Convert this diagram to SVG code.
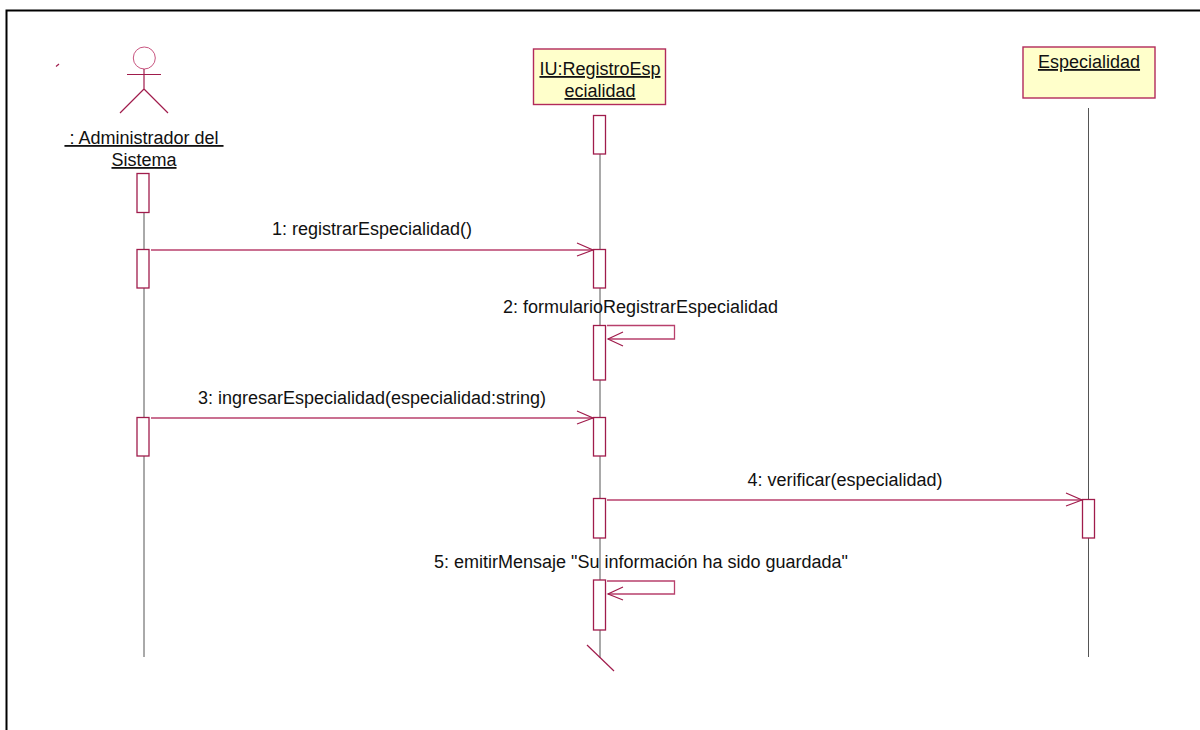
<svg xmlns="http://www.w3.org/2000/svg" width="1200" height="730" viewBox="0 0 1200 730">
<style>
text{font-family:"Liberation Sans",Arial,sans-serif;font-size:18px;fill:#111;text-anchor:middle}
.u{text-decoration:underline}
.l{stroke:#a01c4c;stroke-width:1.2;fill:none}
.a{fill:#fff;stroke:#a01c4c;stroke-width:1.3}
.o{fill:#ffffcb;stroke:#b22a5a;stroke-width:1.4}
.ll{stroke:#555;stroke-width:1;fill:none}
.m{stroke:#b8406c;stroke-width:1.3;fill:none}
</style>
<rect width="1200" height="730" fill="#fff"/>
<path d="M6.5 730V10.5H1200" fill="none" stroke="#000" stroke-width="2"/>
<path class="l" d="M56 66.5L59 64"/>
<g id="lifelines">
<path class="ll" d="M144 212V657M600 154V658M1088.5 108V657"/>
</g>
<g id="actor-administrador">
<circle cx="144.300" cy="58" r="11" fill="#fff" stroke="#c8557f" stroke-width="1"/>
<path class="l" d="M144 69V89M127 74.500H161M144 89L120 113M144 89L168 113"/>
<text class="u" x="144" y="144" xml:space="preserve"> : Administrador del </text>
<text class="u" x="144" y="166">Sistema</text>
</g>
<g id="obj-iu">
<rect class="o" x="533.500" y="49" width="132" height="55.500"/>
<text class="u" x="600" y="75">IU:RegistroEsp</text>
<text class="u" x="600" y="97">ecialidad</text>
</g>
<g id="obj-especialidad">
<rect class="o" x="1023" y="47" width="132" height="51"/>
<text class="u" x="1089" y="68">Especialidad</text>
</g>
<g id="activations">
<rect class="a" x="137" y="173.500" width="12" height="39"/>
<rect class="a" x="137" y="249.500" width="12" height="38.500"/>
<rect class="a" x="137" y="417.500" width="12" height="38.500"/>
<rect class="a" x="593.500" y="115.500" width="12" height="38.500"/>
<rect class="a" x="593.500" y="249.500" width="12" height="38.500"/>
<rect class="a" x="593.500" y="325.500" width="12" height="54.500"/>
<rect class="a" x="593.500" y="417.500" width="12" height="38.500"/>
<rect class="a" x="593.500" y="498.500" width="12" height="39.500"/>
<rect class="a" x="593.500" y="580" width="12" height="50"/>
<rect class="a" x="1082.500" y="499.500" width="12" height="38.500"/>
</g>
<g id="connectors">
<path class="m" d="M151 250H593"/><path class="l" d="M577 243L593 250L577 256"/>
<path class="m" d="M607 325.500H674.500V339H608"/><path class="l" d="M623 332L608 339L623 346"/>
<path class="m" d="M151 418H593"/><path class="l" d="M577 411L593 418L577 424"/>
<path class="m" d="M607 500H1082"/><path class="l" d="M1066 493L1082 500L1066 506"/>
<path class="m" d="M607 581H674.500V594H608"/><path class="l" d="M623 587L608 594L623 600"/>
<path class="l" d="M587 645L614 671"/>
</g>
<g id="labels">
<text x="372" y="235">1: registrarEspecialidad()</text>
<text x="640.500" y="312.500">2: formularioRegistrarEspecialidad</text>
<text x="372" y="404">3: ingresarEspecialidad(especialidad:string)</text>
<text x="845" y="486">4: verificar(especialidad)</text>
<text x="641" y="567.500">5: emitirMensaje "Su información ha sido guardada"</text>
</g>
</svg>
